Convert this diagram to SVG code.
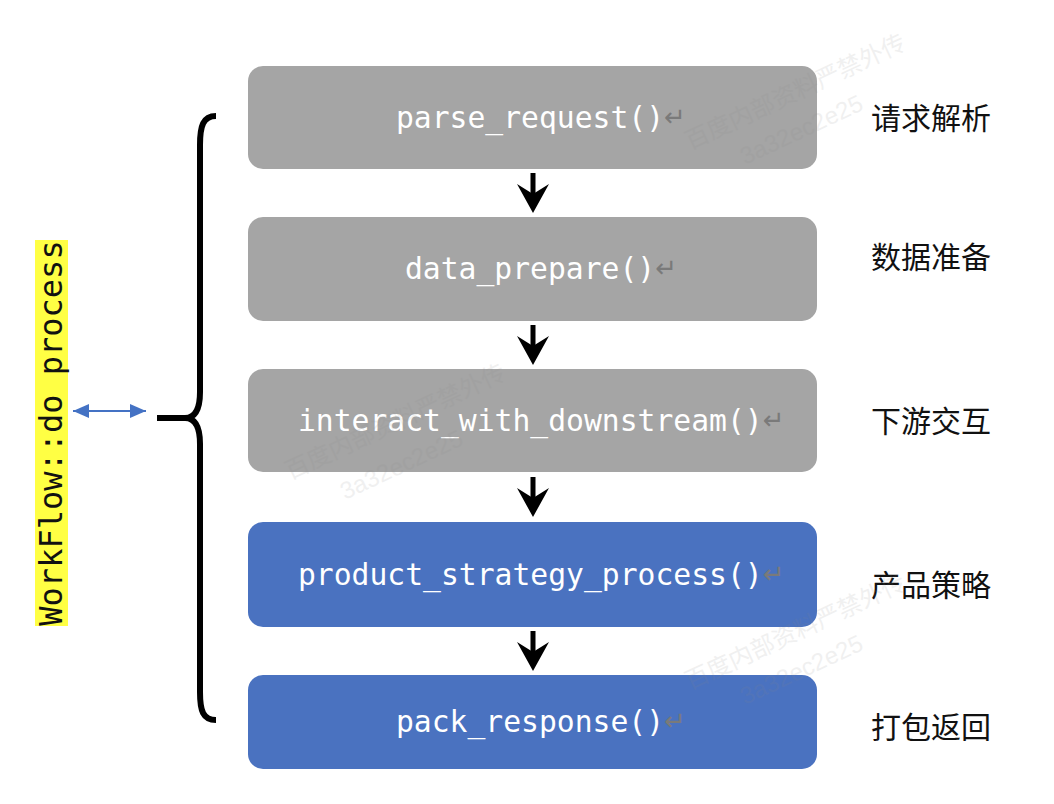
<svg xmlns="http://www.w3.org/2000/svg" xmlns:xlink="http://www.w3.org/1999/xlink" width="1054" height="804" viewBox="0 0 1054 804">
<style>
.box-gray{fill:#a5a5a5}
.box-blue{fill:#4a72c0}
.code{font-family:"DejaVu Sans Mono","Liberation Mono",monospace;font-size:29.7px;fill:#ffffff}
.ret{fill:#7a7a7a;font-family:"DejaVu Sans",sans-serif;font-size:26px}
.cn{font-family:"Noto Sans CJK SC","Noto Sans CJK JP",sans-serif;font-size:30px;fill:#111111}
.wm{font-family:"Liberation Sans","Noto Sans CJK SC",sans-serif;font-size:24px;fill:#888888;opacity:0.12}
</style>
<defs>
<g id="down">
<rect x="-2.5" y="0" width="5" height="24" fill="#000"/>
<polygon points="-16,11 0,21 16,11 0,40" fill="#000"/>
</g>
<marker id="bh" viewBox="0 0 16 14" refX="16" refY="7" markerWidth="16" markerHeight="14" orient="auto-start-reverse" markerUnits="userSpaceOnUse">
<path d="M0,0 L16,7 L0,14 Z" fill="#4472c4"/>
</marker>
</defs>
<rect width="1054" height="804" fill="#ffffff"/>

<g id="workflow-label">
<rect x="35" y="240" width="33" height="386" fill="#ffff44"/>
<text transform="translate(62,433) rotate(-90)" text-anchor="middle" font-family="DejaVu Sans Mono, Liberation Mono, monospace" font-size="32" fill="#111">WorkFlow::do process</text>
</g>

<g id="brace">
<path d="M216,116 C203,116 200,126 200,145 L200,392 C200,410 195,418 185,418 L157,418 M185,418 C195,418 200,426 200,444 L200,692 C200,711 203,720 216,720" fill="none" stroke="#000" stroke-width="6"/>
</g>

<g id="n1"><rect class="box-gray" x="248" y="66" width="569" height="103" rx="15"/>
<text class="code" x="396" y="128">parse_request()<tspan class="ret" dy="-2">↵</tspan></text></g>
<g id="n2"><rect class="box-gray" x="248" y="217" width="569" height="104" rx="15"/>
<text class="code" x="405" y="279">data_prepare()<tspan class="ret" dy="-2">↵</tspan></text></g>
<g id="n3"><rect class="box-gray" x="248" y="369" width="569" height="103" rx="15"/>
<text class="code" x="298" y="431">interact_with_downstream()<tspan class="ret" dy="-2">↵</tspan></text></g>
<g id="n4"><rect class="box-blue" x="248" y="522" width="569" height="105" rx="15"/>
<text class="code" x="298" y="585">product_strategy_process()<tspan class="ret" dy="-2">↵</tspan></text></g>
<g id="n5"><rect class="box-blue" x="248" y="675" width="569" height="94" rx="15"/>
<text class="code" x="396" y="732">pack_response()<tspan class="ret" dy="-2">↵</tspan></text></g>

<g id="labels">
<text class="cn" x="871" y="129">请求解析</text>
<text class="cn" x="871" y="268">数据准备</text>
<text class="cn" x="871" y="432">下游交互</text>
<text class="cn" x="871" y="596">产品策略</text>
<text class="cn" x="871" y="738">打包返回</text>
</g>

<g id="connectors">
<use xlink:href="#down" x="533" y="173"/>
<use xlink:href="#down" x="533" y="325"/>
<use xlink:href="#down" x="533" y="477"/>
<use xlink:href="#down" x="533" y="631"/>
<line x1="73" y1="411" x2="146" y2="411" stroke="#4472c4" stroke-width="2" marker-start="url(#bh)" marker-end="url(#bh)"/>
</g>

<g id="watermarks">
<text class="wm" transform="translate(690,150) rotate(-25)">百度内部资料严禁外传</text>
<text class="wm" transform="translate(745,165) rotate(-25)">3a32ec2e25</text>
<text class="wm" transform="translate(290,480) rotate(-25)">百度内部资料严禁外传</text>
<text class="wm" transform="translate(345,500) rotate(-25)">3a32ec2e25</text>
<text class="wm" transform="translate(690,690) rotate(-25)">百度内部资料严禁外传</text>
<text class="wm" transform="translate(745,705) rotate(-25)">3a32ec2e25</text>
</g>
</svg>
